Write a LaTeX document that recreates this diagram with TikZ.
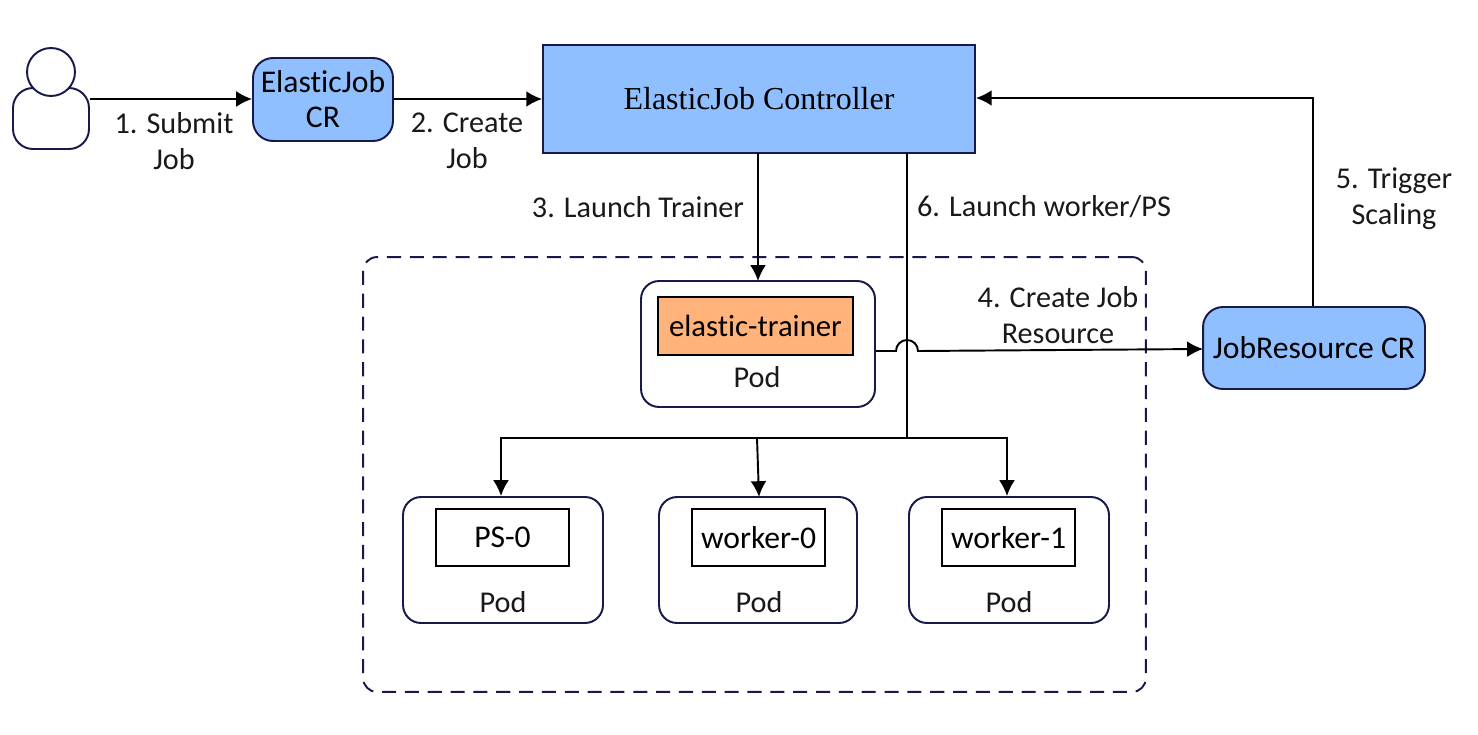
\documentclass[tikz,border=0pt]{standalone}
\usepackage{fontspec}
\setmainfont{Carlito}[Ligatures=NoCommon]
\newfontfamily\titlefont{Liberation Serif}
\usetikzlibrary{arrows.meta}
\definecolor{outline}{HTML}{16194A}
\definecolor{crblue}{HTML}{8FBFFF}
\definecolor{trainerorange}{HTML}{FFB27A}
\tikzset{
    base/.style={draw=outline,line width=1.1pt,inner sep=0pt,align=center,font=\fontsize{18}{20}\selectfont},
    crbox/.style={base,fill=crblue,rounded corners=0.4cm},
    podbox/.style={base,fill=white,rounded corners=0.36cm,minimum height=2.52cm},
    innerbox/.style={base,draw=black,fill=white,minimum width=2.66cm,minimum height=1.14cm},
    lab/.style={align=center,inner sep=0pt,text=black!90,font=\fontsize{17.2}{20.4}\selectfont},
    arrow/.style={-{Latex[length=9pt,width=9pt]},line width=1.1pt},
    plain/.style={line width=1.1pt}
}
\begin{document}
\begin{tikzpicture}[x=0.02cm,y=-0.02cm]
    \useasboundingbox (0,0) rectangle (1478,734);

    % outer dashed frame
    \node[draw=outline,line width=1.1pt,dash pattern=on 8pt off 5pt,rounded corners=0.28cm,minimum width=15.66cm,minimum height=8.7cm] (frame) at (754.5,474.5) {};

    % user
    \node[draw=outline,line width=1.1pt,fill=white,rounded corners=0.4cm,minimum width=1.52cm,minimum height=1.22cm] (userbody) at (51,118.5) {};
    \node[draw=outline,line width=1.1pt,fill=white,circle,minimum size=0.96cm,inner sep=0pt] (userhead) at (51,72) {};

    % top row
    \node[crbox,minimum width=2.8cm,minimum height=1.66cm] (crjob) at (323,99.5) {ElasticJob\\CR};
    \node[base,fill=crblue,minimum width=8.64cm,minimum height=2.16cm,font=\titlefont\fontsize{18.2}{20}\selectfont] (controller) at (759,99) {ElasticJob Controller};
    \node[crbox,minimum width=4.44cm,minimum height=1.64cm] (crres) at (1314,348) {JobResource CR};

    % pods
    \node[podbox,minimum width=4.68cm] (podtrainer) at (758,344) {};
    \node[base,draw=black,fill=trainerorange,minimum width=3.9cm,minimum height=1.16cm,font=\fontsize{17.5}{20}\selectfont] (trainer) at (755.5,326) {elastic-trainer};
    \node[lab] (labtrainer) at (757,377) {Pod};

    \node[podbox,minimum width=4cm] (podps) at (503,560) {};
    \node[innerbox] (ps) at (502.5,537.5) {PS-0};
    \node[lab] (labps) at (503,602) {Pod};

    \node[podbox,minimum width=3.96cm] (podwa) at (758,560) {};
    \node[innerbox] (wa) at (758.5,537.5) {worker-0};
    \node[lab] (labwa) at (759,602) {Pod};

    \node[podbox,minimum width=4cm] (podwb) at (1009,560) {};
    \node[innerbox] (wb) at (1008.5,537.5) {worker-1};
    \node[lab] (labwb) at (1009,602) {Pod};

    % free ends
    \coordinate (fork) at (907,438);
    \coordinate (forkps) at (501,438);
    \coordinate (forkwa) at (757,438);
    \coordinate (forkwb) at (1007,438);
    \coordinate (jumpa) at (896,351);
    \coordinate (jumpb) at (1203,349);
    \coordinate (backup) at (1313,98);

    % arrows
    \draw[arrow] (userbody.east |- 0,99) -- (crjob.west |- 0,99);
    \draw[arrow] (crjob.east |- 0,99) -- (controller.west |- 0,99);
    \draw[arrow] (758,153) -- (758,281);
    \draw[plain] (907,153) -- (fork);
    \draw[arrow] (fork) -- (forkps) -- (forkps |- podps.north);
    \draw[arrow] (forkwa) -- (759,497);
    \draw[arrow] (fork) -- (forkwb) -- (forkwb |- podwb.north);
    \draw[arrow] (podtrainer.east |- jumpa) -- (jumpa) arc[start angle=180,end angle=0,radius=0.22cm] -- (jumpb);
    \draw[arrow] (backup |- crres.north) -- (backup) -- (controller.east |- backup);

    % labels
    \node[lab] (lsubmit) at (174,141) {1. Submit\\Job};
    \node[lab] (lcreate) at (467,141) {2. Create\\Job};
    \node[lab] (ltrainer) at (638,207) {3. Launch Trainer};
    \node[lab] (lworker) at (1044,207) {6. Launch worker/PS};
    \node[lab] (lres) at (1058,315) {4. Create Job\\Resource};
    \node[lab] (lscale) at (1394,199) {5. Trigger\\Scaling};
\end{tikzpicture}
\end{document}
